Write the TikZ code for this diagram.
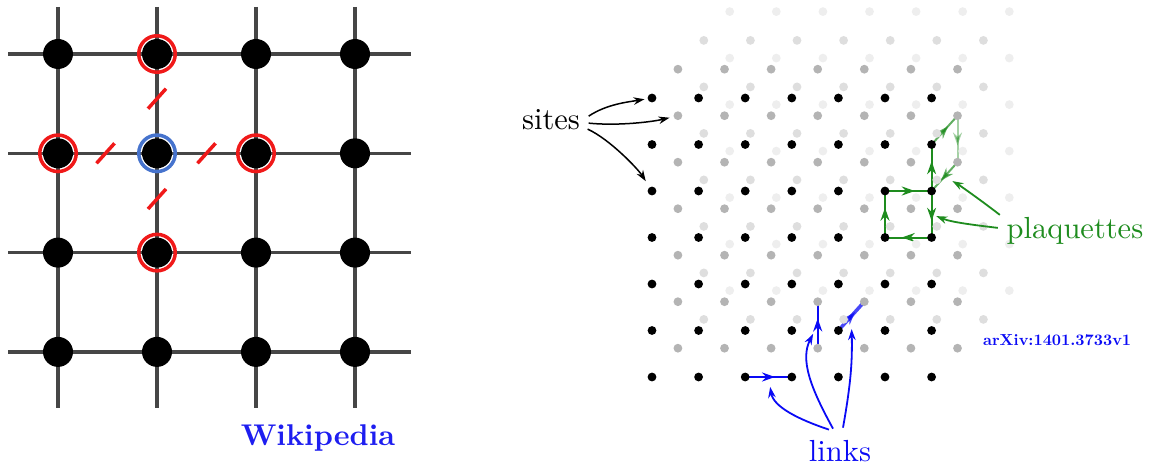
\documentclass[tikz,border=0pt]{standalone}
\usepackage{fontspec}
\newfontfamily\notefont{lmroman10-regular.otf}
\newfontfamily\noteboldfont{lmroman10-bold.otf}
\usetikzlibrary{arrows.meta,decorations.markings,calc}
\pgfdeclarelayer{back}
\pgfsetlayers{back,main}
\definecolor{grid_gray}{RGB}{70,70,70}
\definecolor{ring_red}{RGB}{240,25,25}
\definecolor{ring_blue}{RGB}{70,115,205}
\definecolor{wiki_blue}{RGB}{30,30,240}
\definecolor{pq_green}{RGB}{30,140,30}
\definecolor{link_blue}{RGB}{10,10,245}
\definecolor{site_l1}{RGB}{180,180,180}
\definecolor{site_l2}{RGB}{222,222,222}
\definecolor{site_l3}{RGB}{238,238,238}

\begin{document}
\begin{tikzpicture}[>=Stealth, x=1pt, y=-1pt]
    % 通用样式
    \tikzstyle{grid_line} = [line width=3.5pt, grid_gray]
    \tikzstyle{node_wiki} = [circle, fill=black, inner sep=0pt, minimum size=30pt]
    \tikzstyle{node_ring} = [circle, line width=3.5pt, inner sep=0pt, minimum size=36.5pt]
    \tikzstyle{line_cut} = [line width=3.5pt, ring_red]
    \tikzstyle{node_site} = [circle, inner sep=0pt, minimum size=8.8pt]
    \tikzstyle{mid_arrow} = [postaction={decorate}, decoration={markings, mark=at position 0.64 with {\arrow{Stealth[length=13pt,width=9pt]}}}]
    \tikzstyle{link_pq} = [line width=2pt, pq_green, mid_arrow]
    \tikzstyle{link_bl} = [line width=2.4pt, link_blue, mid_arrow]
    \tikzstyle{arrow_note} = [-{Stealth[length=11pt,width=7.5pt]}, line width=1.5pt]
    \tikzstyle{text_note} = [font=\notefont\fontsize{30.5}{36}\selectfont, inner sep=2pt]

    \useasboundingbox (0,0) rectangle (1153,465);

    % ================= 左：Wikipedia =================
    \begin{scope}[shift={(58,54)}]
        % 网格线
        \foreach \i in {0,1,2,3} {
            \draw[grid_line] (\i*99, -47) -- (\i*99, 354);
            \draw[grid_line] (-50, \i*99.3) -- (353, \i*99.3);
        }

        % 格点
        \foreach \i in {0,1,2,3} {
            \foreach \j in {0,1,2,3} {
                \node[node_wiki] (w\i\j) at (\i*99, \j*99.3) {};
            }
        }

        % 中心与近邻
        \node[node_ring, draw=ring_blue] (ring0) at (w11) {};
        \foreach \n/\p in {1/w10, 2/w01, 3/w21, 4/w12} {
            \node[node_ring, draw=ring_red] (ring\n) at (\p) {};
        }

        % 红色切线
        \draw[line_cut] ($(w10)!0.45!(w11)$) +(-9,10) -- +(9,-10);
        \draw[line_cut] ($(w11)!0.46!(w12)$) +(-9,10) -- +(9,-10);
        \draw[line_cut] ($(w01)!0.48!(w11)$) +(-9,10) -- +(9,-10);
        \draw[line_cut] ($(w11)!0.50!(w21)$) +(-9,10) -- +(9,-10);

        \node[font=\noteboldfont\fontsize{30}{36}\selectfont, wiki_blue, anchor=base] (wiki) at (260,391) {Wikipedia};
    \end{scope}

    % ================= 右：三维格子 =================
    \begin{scope}[shift={(652,98)}]
        % 格点：由后往前
        \foreach \ly/\col in {3/site_l3, 2/site_l2, 1/site_l1, 0/black} {
            \foreach \i in {0,...,6} {
                \foreach \j in {0,...,6} {
                    \node[node_site, fill=\col] (s\ly-\i-\j) at (\i*46.6+\ly*25.9, \j*46.5-\ly*28.8) {};
                }
            }
        }

        \begin{pgfonlayer}{back}
            % plaquettes
            \foreach \a/\b in {s0-5-2/s0-6-2, s0-6-2/s0-6-3, s0-6-3/s0-5-3, s0-5-3/s0-5-2, s0-6-2/s0-6-1} {
                \draw[link_pq] (\a.center) -- (\b.center);
            }
            \draw[link_pq, opacity=0.7] (s0-6-1.center) -- (s1-6-1.center);
            \draw[link_pq, opacity=0.4] (s1-6-1.center) -- (s1-6-2.center);
            \draw[link_pq, opacity=0.7] (s1-6-2.center) -- (s0-6-2.center);

            % links
            \draw[link_bl] (s0-2-6.center) -- (s0-3-6.center);
            \draw[link_bl] (s1-3-6.center) -- (s1-3-5.center);
            \draw[link_bl, line width=3.5pt, opacity=0.75] (s0-4-5.center) -- (s1-4-5.center);
        \end{pgfonlayer}

        % 标注
        \node[text_note, anchor=base] (sites) at (-101,32) {sites};
        \node[text_note, anchor=base, pq_green] (pq) at (423,140) {plaquettes};
        \node[text_note, anchor=base, link_blue] (lk) at (188,363) {links};
        \node[font=\noteboldfont\fontsize{16}{19}\selectfont, link_blue, anchor=base west, inner sep=0pt] (arxiv) at (331,247) {arXiv:1401.3733v1};

        \coordinate (pq-a) at ($(s1-6-2)!0.5!(s0-6-2)$);
        \coordinate (pq-b) at ($(s0-6-2)!0.5!(s0-6-3)$);
        \coordinate (lk-a) at ($(s0-2-6)!0.5!(s0-3-6)$);
        \coordinate (lk-b) at ($(s1-3-6)!0.5!(s1-3-5)$);
        \coordinate (lk-c) at ($(s0-4-5)!0.5!(s1-4-5)$);

        \draw[arrow_note, shorten >=3pt] ([xshift=6.5pt, yshift=4pt]sites.east) .. controls +(18,-12) and +(-24,4) .. (s0-0-0);
        \draw[arrow_note, shorten >=4pt] ([xshift=6.5pt, yshift=-3pt]sites.east) .. controls +(30,3) and +(-25,6) .. (s1-0-1);
        \draw[arrow_note, shorten >=7pt] ([xshift=5.5pt, yshift=-9pt]sites.east) .. controls +(22,10) and +(-14,-22) .. (s0-0-2);

        \draw[arrow_note, pq_green, line width=1.8pt, shorten >=9pt] ([xshift=-4.7pt, yshift=15.5pt]pq.west) .. controls +(-18,-14) and +(14,8) .. (pq-a);
        \draw[arrow_note, pq_green, line width=1.8pt, shorten >=5pt] ([xshift=-6.7pt, yshift=2.5pt]pq.west) .. controls +(-25,-3) and +(20,8) .. (pq-b);

        \draw[arrow_note, link_blue, line width=1.8pt, shorten >=10pt] ([xshift=-11pt, yshift=8pt]lk.north) .. controls +(-30,-10) and +(5,30) .. (lk-a);
        \draw[arrow_note, link_blue, line width=1.8pt, shorten >=10pt] ([xshift=-7pt, yshift=9pt]lk.north) .. controls +(-22,-40) and +(-18,35) .. (lk-b);
        \draw[arrow_note, link_blue, line width=1.8pt, shorten >=13pt] ([xshift=3pt, yshift=10pt]lk.north) .. controls +(8,-45) and +(1,45) .. (lk-c);
    \end{scope}

\end{tikzpicture}
\end{document}
